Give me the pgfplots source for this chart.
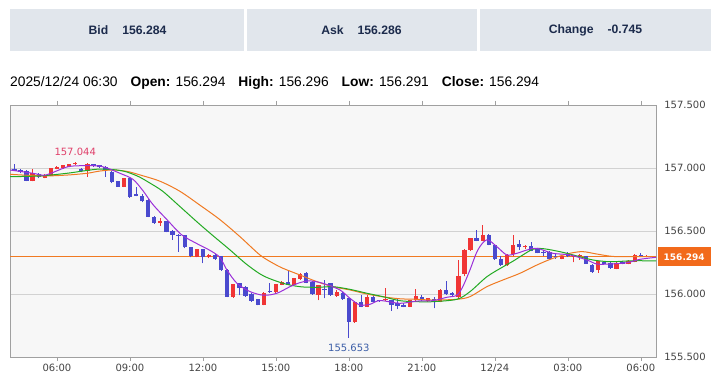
\documentclass[border=0pt]{standalone}
\usepackage{fontspec}
\setmainfont{Liberation Sans}
\newfontfamily\dv{DejaVu Sans}
\usepackage{pgfplots}
\usepackage{pgfplotstable}
\pgfplotsset{compat=1.18}
\definecolor{cup}{HTML}{F03535}
\definecolor{cdn}{HTML}{4A4ACE}
\definecolor{maP}{HTML}{9B30D9}
\definecolor{maG}{HTML}{22AA22}
\definecolor{maO}{HTML}{F07A22}
\definecolor{hdrfill}{HTML}{E1E6EC}
\definecolor{hdrtext}{HTML}{1C2B4C}
\definecolor{pbox}{HTML}{F26A1B}
\definecolor{bgc}{HTML}{F7F7F7}
\definecolor{axc}{HTML}{A0A0A0}
\definecolor{gridc}{HTML}{D2D2D2}
\definecolor{tickc}{HTML}{444444}
\definecolor{hilab}{HTML}{E0406A}
\definecolor{lolab}{HTML}{3D5FA8}

\pgfplotstableread{
i O H L C
0 156.990 157.030 156.975 156.980
1 156.984 156.990 156.960 156.968
2 156.975 156.985 156.895 156.900
3 156.897 156.990 156.893 156.958
4 156.950 156.960 156.920 156.925
5 156.922 156.950 156.918 156.945
6 156.940 157.000 156.935 156.997
7 156.995 157.015 156.990 157.010
8 157.000 157.025 156.995 157.020
9 157.010 157.035 157.005 157.030
10 157.030 157.044 157.025 157.035
11 156.990 157.000 156.965 156.975
12 156.976 157.040 156.930 157.035
13 157.030 157.035 157.010 157.015
14 157.020 157.025 157.000 157.005
15 157.010 157.015 156.930 156.985
16 156.970 156.980 156.880 156.887
17 156.897 156.900 156.850 156.852
18 156.852 156.920 156.848 156.918
19 156.918 156.925 156.765 156.772
20 156.790 156.850 156.775 156.780
21 156.780 156.790 156.730 156.735
22 156.745 156.750 156.610 156.615
23 156.610 156.620 156.556 156.562
24 156.562 156.600 156.540 156.578
25 156.578 156.580 156.490 156.495
26 156.500 156.505 156.430 156.470
27 156.470 156.475 156.335 156.466
28 156.465 156.470 156.365 156.370
29 156.370 156.375 156.290 156.298
30 156.296 156.360 156.290 156.355
31 156.357 156.360 156.245 156.290
32 156.291 156.315 156.285 156.310
33 156.310 156.320 156.270 156.277
34 156.300 156.305 156.185 156.190
35 156.190 156.195 155.975 155.980
36 155.975 156.080 155.970 156.077
37 156.085 156.090 155.990 156.045
38 156.058 156.060 155.980 155.985
39 156.000 156.005 155.940 155.948
40 155.958 155.960 155.910 155.915
41 155.913 156.015 155.910 156.010
42 156.020 156.090 156.010 156.015
43 156.012 156.080 156.008 156.077
44 156.075 156.105 156.070 156.098
45 156.098 156.180 156.070 156.075
46 156.073 156.130 156.068 156.125
47 156.120 156.165 156.115 156.155
48 156.164 156.172 156.085 156.090
49 156.097 156.100 155.995 156.000
50 155.992 156.075 155.952 156.071
51 156.040 156.110 155.965 156.030
52 156.085 156.090 155.985 155.990
53 155.985 156.035 155.980 156.015
54 156.010 156.015 155.955 155.960
55 155.965 155.970 155.653 155.780
56 155.775 155.945 155.770 155.940
57 155.935 155.990 155.895 155.900
58 155.900 155.990 155.895 155.974
59 155.974 156.000 155.935 155.940
60 155.950 155.955 155.940 155.945
61 155.950 156.045 155.945 155.960
62 155.952 155.955 155.868 155.913
63 155.926 155.960 155.880 155.905
64 155.913 155.930 155.895 155.900
65 155.900 155.955 155.895 155.952
66 155.950 156.040 155.945 155.985
67 155.978 155.990 155.945 155.952
68 155.945 155.970 155.940 155.965
69 155.962 155.975 155.885 155.955
70 155.940 156.040 155.935 156.032
71 156.028 156.103 155.995 156.000
72 156.010 156.015 155.985 155.990
73 155.975 156.270 155.960 156.139
74 156.160 156.360 156.140 156.349
75 156.350 156.445 156.345 156.442
76 156.442 156.508 156.420 156.423
77 156.423 156.548 156.420 156.468
78 156.468 156.475 156.385 156.389
79 156.389 156.390 156.270 156.275
80 156.275 156.300 156.225 156.230
81 156.230 156.315 156.225 156.310
82 156.315 156.470 156.300 156.390
83 156.397 156.430 156.350 156.370
84 156.370 156.385 156.360 156.380
85 156.380 156.410 156.340 156.345
86 156.355 156.360 156.325 156.325
87 156.335 156.350 156.300 156.325
88 156.336 156.340 156.270 156.275
89 156.300 156.325 156.280 156.290
90 156.280 156.310 156.275 156.305
91 156.315 156.335 156.295 156.300
92 156.295 156.305 156.250 156.300
93 156.300 156.315 156.270 156.310
94 156.298 156.300 156.240 156.242
95 156.230 156.235 156.170 156.177
96 156.190 156.265 156.170 156.262
97 156.255 156.260 156.235 156.240
98 156.245 156.250 156.200 156.205
99 156.200 156.250 156.195 156.245
100 156.256 156.260 156.235 156.238
101 156.240 156.270 156.235 156.264
102 156.256 156.315 156.250 156.310
103 156.310 156.325 156.295 156.300
104 156.295 156.310 156.290 156.300
105 156.294 156.296 156.291 156.294
}\candles

\pgfplotsset{candle/.style={only marks, mark=*, mark size=0pt,
  mark options={draw=none, fill=none}, forget plot}}

\begin{document}
\begin{tikzpicture}[x=1pt,y=1pt]
\useasboundingbox (0,0) rectangle (720,377);
\fill[white] (0,0) rectangle (720,377);
% header boxes
\fill[hdrfill] (10,326) rectangle (244,368);
\fill[hdrfill] (246.5,326) rectangle (477,368);
\fill[hdrfill] (479.5,326) rectangle (711,368);
\node[font=\bfseries\fontsize{12.2}{14}\selectfont, text=hdrtext] at (127.5,347) {Bid\hspace{14pt}156.284};
\node[font=\bfseries\fontsize{12.2}{14}\selectfont, text=hdrtext] at (361.5,347) {Ask\hspace{14pt}156.286};
\node[font=\bfseries\fontsize{12.2}{14}\selectfont, text=hdrtext] at (595.5,347) {Change\hspace{14pt}-0.745};
% info line
\node[anchor=base west, inner sep=0pt, font=\fontsize{13.8}{16}\selectfont] at (10,290)
 {2025/12/24 06:30\hspace{13pt}\textbf{Open:} 156.294\hspace{13pt}\textbf{High:} 156.296\hspace{13pt}\textbf{Low:} 156.291\hspace{13pt}\textbf{Close:} 156.294};

\begin{axis}[at={(10pt,20pt)}, anchor=south west, scale only axis,
  width=646pt, height=252pt,
  xmin=-0.72, xmax=105.5, ymin=155.5, ymax=157.5,
  axis background/.style={fill=bgc},
  axis line style={draw=axc},
  xtick={7,19,31,43,55,67,79,91,103},
  xticklabels={06:00,09:00,12:00,15:00,18:00,21:00,12/24,03:00,06:00},
  ytick={155.5,156,156.5,157,157.5},
  yticklabels={155.500,156.000,156.500,157.000,157.500},
  yticklabel pos=right,
  tick align=outside, major tick length=4pt,
  xtick style={draw=axc}, ytick style={draw=none},
  ymajorgrids, grid style={draw=gridc, line width=0.8pt},
  xticklabel style={font=\dv\fontsize{10}{12}\selectfont, text=tickc},
  yticklabel style={font=\dv\fontsize{10}{12}\selectfont, text=tickc, xshift=0.8pt},
  clip mode=individual,
]
% current price line
\addplot[maO, line width=1pt, forget plot] coordinates {(-0.72,156.294) (105.5,156.294)};
% wicks
\addplot[candle,
  x filter/.expression={\thisrow{C}>=\thisrow{O} ? x : nan},
  error bars/.cd, y dir=plus, y explicit, error mark=none,
  error bar style={line width=1pt, draw=cup}]
  table[x=i, y=L, y error plus expr={\thisrow{H}-\thisrow{L}}] {\candles};
\addplot[candle,
  x filter/.expression={\thisrow{C}<\thisrow{O} ? x : nan},
  error bars/.cd, y dir=plus, y explicit, error mark=none,
  error bar style={line width=1pt, draw=cdn}]
  table[x=i, y=L, y error plus expr={\thisrow{H}-\thisrow{L}}] {\candles};
% bodies
\addplot[candle,
  x filter/.expression={\thisrow{C}>=\thisrow{O} ? x : nan},
  error bars/.cd, y dir=plus, y explicit, error mark=none,
  error bar style={line width=4.3pt, draw=cup}]
  table[x=i, y expr={min(\thisrow{O},\thisrow{C})}, y error plus expr={max(abs(\thisrow{C}-\thisrow{O}),0.006)}] {\candles};
\addplot[candle,
  x filter/.expression={\thisrow{C}<\thisrow{O} ? x : nan},
  error bars/.cd, y dir=plus, y explicit, error mark=none,
  error bar style={line width=4.3pt, draw=cdn}]
  table[x=i, y expr={min(\thisrow{O},\thisrow{C})}, y error plus expr={max(abs(\thisrow{C}-\thisrow{O}),0.006)}] {\candles};
% moving averages
\addplot[maO, line width=1pt, smooth, forget plot] coordinates {
(-0.72,156.95) (4.70,156.937) (8.65,156.944) (11.94,156.958) (14.07,156.976) (16.21,156.984) (18.51,156.973) (20.65,156.945) (23.94,156.895) (27.22,156.815) (30.51,156.705) (33.8,156.59) (37.09,156.455) (40.37,156.31) (42.5,156.245) (44.16,156.204) (46.95,156.151) (49.74,156.098) (52.37,156.058) (55.17,156.032) (57.96,156.0) (60.59,155.978) (63.39,155.962) (66.18,155.958) (68.81,155.952) (72.76,155.958) (74.90,155.979) (77.69,156.058) (80.32,156.111) (83.12,156.164) (85.91,156.23) (88.54,156.283) (91.34,156.323) (93.47,156.336) (95.78,156.317) (98.41,156.298) (101.7,156.296) (105.5,156.296)};
\addplot[maG, line width=1pt, smooth, forget plot] coordinates {
(-0.72,156.931) (4.21,156.937) (8.65,156.958) (11.28,156.976) (14.07,156.992) (16.87,156.984) (18.51,156.968) (20.5,156.93) (22.3,156.88) (24.4,156.815) (27.2,156.695) (30.2,156.565) (32.6,156.465) (35.4,156.352) (38.2,156.235) (40.9,156.145) (44.16,156.085) (46.95,156.058) (49.74,156.053) (52.37,156.058) (55.17,156.037) (57.96,156.006) (60.59,155.979) (63.39,155.947) (66.18,155.939) (68.81,155.939) (72.76,155.958) (74.90,156.018) (77.69,156.137) (80.32,156.215) (81.97,156.26) (83.61,156.31) (85.26,156.355) (86.90,156.36) (89.69,156.336) (92.49,156.302) (95.12,156.27) (97.91,156.256) (100.71,156.262) (102.84,156.264) (105.5,156.262)};
\addplot[maP, line width=1pt, smooth, forget plot] coordinates {
(-0.72,156.984) (3.06,156.958) (4.70,156.942) (5.85,156.955) (8.65,157.008) (10.78,157.018) (14.07,157.016) (15.22,157.0) (17.36,156.958) (19.50,156.91) (21.14,156.82) (22.78,156.71) (25.09,156.59) (27.5,156.47) (30.0,156.40) (32.2,156.345) (33.8,156.29) (34.95,156.19) (36.6,156.085) (38.7,156.02) (41.0,155.99) (43.17,156.006) (45.31,156.058) (46.95,156.09) (48.59,156.104) (50.73,156.085) (53.53,156.032) (55.17,155.966) (56.81,155.913) (58.46,155.918) (60.10,155.948) (63.39,155.926) (66.18,155.944) (68.81,155.947) (71.12,155.974) (72.76,155.99) (73.75,156.06) (74.90,156.19) (76.21,156.35) (77.69,156.43) (79.34,156.375) (80.98,156.31) (82.62,156.323) (84.27,156.349) (85.91,156.363) (88.54,156.323) (91.34,156.31) (94.13,156.27) (95.78,156.238) (97.91,156.238) (100.71,156.248) (102.84,156.275) (105.5,156.291)};
% annotations
\node[font=\dv\fontsize{10}{12}\selectfont, text=hilab] at (axis cs:10,157.127) {157.044};
\node[font=\dv\fontsize{10}{12}\selectfont, text=lolab] at (axis cs:55,155.569) {155.653};
\node[fill=pbox, text=white, font=\dv\bfseries\fontsize{9}{11}\selectfont, anchor=west,
  minimum width=53pt, minimum height=19pt, inner sep=0pt, xshift=1.5pt] at (axis cs:105.5,156.294) {156.294};
\end{axis}
\end{tikzpicture}
\end{document}
